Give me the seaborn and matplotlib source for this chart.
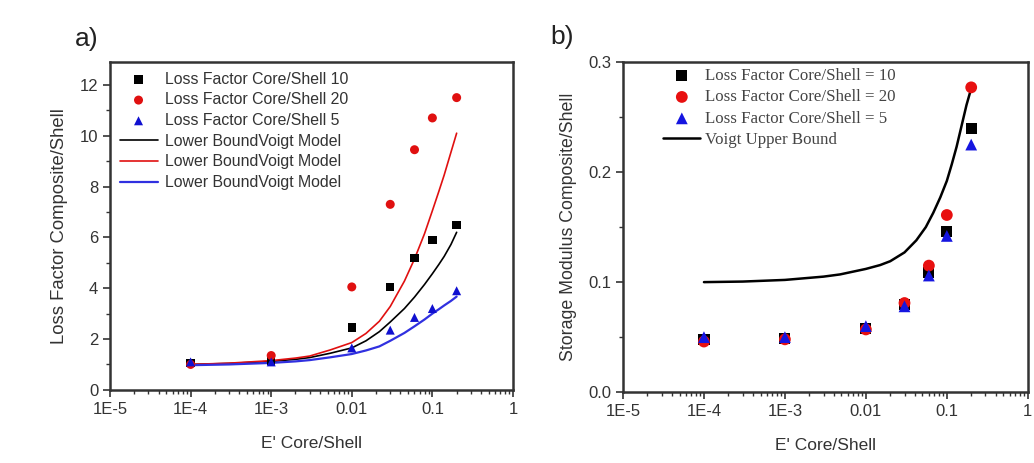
import matplotlib
matplotlib.use("Agg")
import matplotlib.pyplot as plt
import seaborn as sns
import pandas as pd
import numpy as np
from matplotlib.ticker import LogLocator, MultipleLocator, NullFormatter

sns.set_theme(style="ticks")
plt.rcParams['font.family'] = ['Liberation Sans', 'DejaVu Sans']

# ---------------- data ----------------
x_pts = [1e-4, 1e-3, 0.01, 0.03, 0.06, 0.1, 0.2]

# panel a) loss factor
a_cs10 = [1.05, 1.15, 2.45, 4.05, 5.2, 5.9, 6.5]
a_cs20 = [1.0, 1.35, 4.05, 7.3, 9.45, 10.7, 11.5]
a_cs5 = [1.1, 1.1, 1.65, 2.35, 2.85, 3.2, 3.9]

a_xcurve = [1e-4, 3e-4, 1e-3, 2e-3, 3e-3, 0.0054, 0.01, 0.015, 0.022, 0.03, 0.045,
            0.06, 0.08, 0.1, 0.12, 0.14, 0.17, 0.2]
a_line10 = [1.0, 1.04, 1.12, 1.2, 1.27, 1.44, 1.65, 1.93, 2.29, 2.67, 3.2,
            3.65, 4.15, 4.57, 4.93, 5.25, 5.72, 6.2]
a_line20 = [1.0, 1.05, 1.15, 1.25, 1.33, 1.57, 1.86, 2.22, 2.7, 3.28, 4.28,
            5.15, 6.15, 7.05, 7.8, 8.45, 9.35, 10.1]
a_line5 = [0.97, 1.0, 1.06, 1.12, 1.17, 1.28, 1.41, 1.55, 1.71, 1.93, 2.24,
           2.5, 2.77, 3.0, 3.17, 3.32, 3.5, 3.67]

# panel b) storage modulus
b_cs10 = [0.048, 0.049, 0.058, 0.080, 0.109, 0.146, 0.240]
b_cs20 = [0.046, 0.048, 0.057, 0.081, 0.115, 0.161, 0.277]
b_cs5 = [0.050, 0.050, 0.060, 0.078, 0.106, 0.142, 0.225]

b_xcurve = [1e-4, 3e-4, 1e-3, 3e-3, 0.0048, 0.01, 0.015, 0.02, 0.03, 0.042, 0.055,
            0.068, 0.083, 0.1, 0.115, 0.132, 0.152, 0.175, 0.2]
b_voigt = [0.100, 0.1005, 0.102, 0.105, 0.107, 0.112, 0.1155, 0.119, 0.127, 0.138, 0.150,
           0.163, 0.177, 0.192, 0.207, 0.223, 0.242, 0.261, 0.276]

x_ticks = [1e-5, 1e-4, 1e-3, 0.01, 0.1, 1]
x_ticklabels = ["1E-5", "1E-4", "1E-3", "0.01", "0.1", "1"]
a_yticks = [0, 2, 4, 6, 8, 10, 12]
b_yticks = [0.0, 0.1, 0.2, 0.3]
b_yticklabels = ["0.0", "0.1", "0.2", "0.3"]

# ---------------- figure ----------------
fig = plt.figure(figsize=(10.34, 4.63), dpi=100)
axA = fig.add_axes([0.1064, 0.158, 0.3897, 0.708])
axB = fig.add_axes([0.6025, 0.153, 0.3915, 0.713])

def style_axis(ax):
    ax.set_xscale('log')
    ax.set_xlim(1e-5, 1)
    ax.set_xticks(x_ticks)
    ax.set_xticklabels(x_ticklabels)
    ax.xaxis.set_minor_locator(LogLocator(base=10, subs=np.arange(2, 10)))
    ax.xaxis.set_minor_formatter(NullFormatter())
    ax.tick_params(axis='both', which='major', direction='out', length=5, width=1.2,
                   labelsize=12, colors='#333333', labelcolor='#333333')
    ax.tick_params(axis='both', which='minor', direction='out', length=3, width=1.0,
                   colors='#333333')
    for s in ax.spines.values():
        s.set_linewidth(1.8)
        s.set_color('#333333')
    ax.set_xlabel("E' Core/Shell", fontsize=12.5, color='#333333', labelpad=14)

# ---- panel a ----
dfA = pd.DataFrame({'x': x_pts, 'cs10': a_cs10, 'cs20': a_cs20, 'cs5': a_cs5})
dfAl = pd.DataFrame({'x': a_xcurve, 'l10': a_line10, 'l20': a_line20, 'l5': a_line5})

sns.scatterplot(data=dfA, x='x', y='cs10', ax=axA, marker='s', color='black', s=36,
                edgecolor='none', label='Loss Factor Core/Shell 10', zorder=3)
sns.scatterplot(data=dfA, x='x', y='cs20', ax=axA, marker='o', color='#e01010', s=42,
                edgecolor='none', label='Loss Factor Core/Shell 20', zorder=3)
sns.scatterplot(data=dfA, x='x', y='cs5', ax=axA, marker='^', color='#1010d0', s=42,
                edgecolor='none', label='Loss Factor Core/Shell 5', zorder=3)
sns.lineplot(data=dfAl, x='x', y='l10', ax=axA, color='black', linewidth=1.2,
             label='Lower BoundVoigt Model')
sns.lineplot(data=dfAl, x='x', y='l20', ax=axA, color='#e01010', linewidth=1.2,
             label='Lower BoundVoigt Model')
sns.lineplot(data=dfAl, x='x', y='l5', ax=axA, color='#3030e0', linewidth=1.6,
             label='Lower BoundVoigt Model')

style_axis(axA)
axA.set_ylim(0, 12.9)
axA.set_yticks(a_yticks)
axA.yaxis.set_minor_locator(MultipleLocator(1))
axA.set_ylabel("Loss Factor Composite/Shell", fontsize=13.3, color='#333333', labelpad=8)

hA, lA = axA.get_legend_handles_labels()
order = [lA.index('Loss Factor Core/Shell 10'), lA.index('Loss Factor Core/Shell 20'),
         lA.index('Loss Factor Core/Shell 5')]
order += [i for i, l in enumerate(lA) if l == 'Lower BoundVoigt Model']
legA = axA.legend([hA[i] for i in order], [lA[i] for i in order], loc='upper left',
                  bbox_to_anchor=(0.0, 1.0), frameon=False, fontsize=11.4,
                  handlelength=2.4, handletextpad=0.5, labelspacing=0.36,
                  borderaxespad=0.2)
for t in legA.get_texts():
    t.set_color('#333333')

# ---- panel b ----
dfB = pd.DataFrame({'x': x_pts, 'cs10': b_cs10, 'cs20': b_cs20, 'cs5': b_cs5})
dfBl = pd.DataFrame({'x': b_xcurve, 'voigt': b_voigt})

sns.scatterplot(data=dfB, x='x', y='cs10', ax=axB, marker='s', color='black', s=64,
                edgecolor='none', label='Loss Factor Core/Shell = 10', zorder=3)
sns.scatterplot(data=dfB, x='x', y='cs20', ax=axB, marker='o', color='#e81010', s=72,
                edgecolor='none', label='Loss Factor Core/Shell = 20', zorder=3)
sns.scatterplot(data=dfB, x='x', y='cs5', ax=axB, marker='^', color='#1515e0', s=72,
                edgecolor='none', label='Loss Factor Core/Shell = 5', zorder=4)
sns.lineplot(data=dfBl, x='x', y='voigt', ax=axB, color='black', linewidth=1.8,
             label='Voigt Upper Bound')

style_axis(axB)
axB.set_ylim(0, 0.3)
axB.set_yticks(b_yticks)
axB.set_yticklabels(b_yticklabels)
axB.yaxis.set_minor_locator(MultipleLocator(0.05))
axB.set_ylabel("Storage Modulus Composite/Shell", fontsize=12.8, color='#333333', labelpad=8)

hB, lB = axB.get_legend_handles_labels()
legB = axB.legend(hB, lB, loc='upper left', bbox_to_anchor=(0.07, 1.018), frameon=False,
                  prop={'family': 'Liberation Serif', 'size': 12.2},
                  handlelength=2.2, handletextpad=0.25, labelspacing=0.32,
                  borderaxespad=0.3)
for t in legB.get_texts():
    t.set_color('#444444')

fig.text(0.072, 0.915, "a)", fontsize=19, color='#222222', va='center')
fig.text(0.532, 0.92, "b)", fontsize=19, color='#222222', va='center')

fig.savefig("out.png", dpi=100, facecolor='white')
